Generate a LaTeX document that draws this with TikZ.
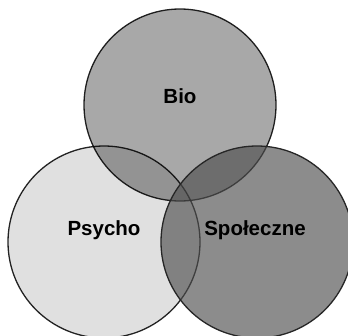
\documentclass[tikz,border=0pt]{standalone}
\usepackage{fontspec}
\setmainfont{Liberation Sans}
\definecolor{biogrey}{RGB}{168,168,168}
\definecolor{psychogrey}{RGB}{224,224,224}
\definecolor{socialgrey}{RGB}{79,79,79}
\begin{document}
\begin{tikzpicture}[x=1pt, y=-1pt,
  sphere/.style={circle, draw=black!85, line width=1.3pt, minimum size=192pt, inner sep=0pt},
  spherelabel/.style={font=\fontsize{20.5}{24}\selectfont\bfseries}]
\useasboundingbox (0,0) rectangle (348,335);
% The three spheres, overlapping
\begin{scope}[blend mode=multiply]
\node[sphere, fill=psychogrey] (psycho) at (104,242) {};
\node[sphere, fill=biogrey] (bio) at (180,105) {};
\end{scope}
\node[sphere, fill=socialgrey, fill opacity=0.655] (spoleczne) at (257,242) {};

% Labels
\node[spherelabel] (biotext) at ([yshift=9pt]bio.center) {Bio};
\node[spherelabel] (psychotext) at ([yshift=12pt]psycho.center) {Psycho};
\node[spherelabel] (spolecznetext) at ([xshift=-2pt,yshift=12pt]spoleczne.center) {Społeczne};
\end{tikzpicture}
\end{document}
